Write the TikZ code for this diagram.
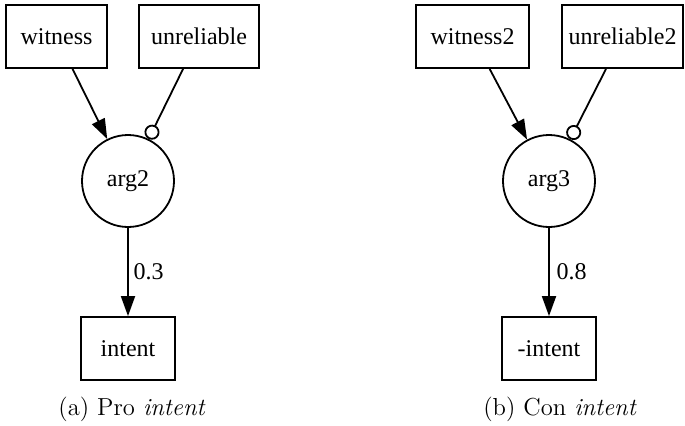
\documentclass[tikz,border=0pt]{standalone}
\usepackage{fontspec}
\newfontfamily\nodefont{Liberation Serif}
\usetikzlibrary{arrows.meta}

\tikzset{
  box/.style={draw, rectangle, line width=0.9pt, inner sep=0pt,
    minimum height=31.5pt, font=\nodefont\fontsize{12}{14}\selectfont},
  argnode/.style={draw, circle, line width=0.9pt, inner sep=0pt,
    minimum size=46pt, font=\nodefont\fontsize{12}{14}\selectfont},
  support/.style={line width=0.9pt, -{Triangle[length=10pt, width=7pt]}},
  attack/.style={line width=0.9pt, -{Circle[open, length=7.5pt, width=7.5pt, line width=0.9pt]}},
  weight/.style={font=\nodefont\fontsize{12}{14}\selectfont, inner sep=0pt},
  caption/.style={font=\fontsize{12.3}{14}\selectfont, inner sep=0pt}
}

\begin{document}
\begin{tikzpicture}[x=0.5pt, y=-0.5pt]
  \useasboundingbox (0,0) rectangle (685,425);

  % (a) argument for intent
  \node[box, minimum width=50.5pt] (w1) at (56.5,36.5) {witness};
  \node[box, minimum width=60pt] (u1) at (199,36.5) {unreliable};
  \node[argnode] (a2) at (128,181) {arg2};
  \node[box, minimum width=47pt] (i1) at (128,348.5) {intent};
  \draw[support] (w1) -- (a2);
  \draw[attack] (u1) -- (a2);
  \draw[support] (a2) -- (i1);
  \node[weight] (l1) at (148.5,272) {0.3};
  \node[caption] (c1) at (132,409) {(a) Pro \textit{intent}};

  % (b) argument against intent
  \node[box, minimum width=56.5pt] (w2) at (472.5,36.5) {witness2};
  \node[box, minimum width=60.5pt] (u2) at (622.5,36.5) {unreliable2};
  \node[argnode] (a3) at (549,181) {arg3};
  \node[box, minimum width=47pt] (i2) at (549,348.5) {-intent};
  \draw[support] (w2) -- (a3);
  \draw[attack] (u2) -- (a3);
  \draw[support] (a3) -- (i2);
  \node[weight] (l2) at (571.5,272) {0.8};
  \node[caption] (c2) at (560,409) {(b) Con \textit{intent}};
\end{tikzpicture}
\end{document}
